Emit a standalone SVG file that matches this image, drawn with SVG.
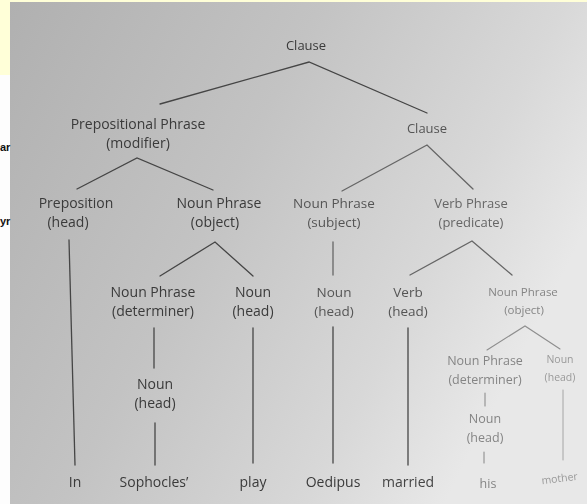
<svg xmlns="http://www.w3.org/2000/svg" width="587" height="504" viewBox="0 0 587 504">
<defs>
<linearGradient id="paper" x1="0" y1="0" x2="1" y2="0.45">
<stop offset="0" stop-color="#b0b0b0"/>
<stop offset="0.45" stop-color="#c3c3c3"/>
<stop offset="0.8" stop-color="#d8d8d8"/>
<stop offset="1" stop-color="#e8e8e8"/>
</linearGradient>
<filter id="soft" x="-5%" y="-5%" width="110%" height="110%"><feGaussianBlur stdDeviation="0.45"/></filter>
<style>
text{font-family:"Open Sans","Noto Sans","DejaVu Sans",sans-serif;text-anchor:middle;}
.d{fill:#3a3a3a;font-size:14px;}
.m{fill:#555;font-size:13.5px;}
.l{fill:#858585;font-size:12.5px;}
.f{fill:#9a9a9a;font-size:10.5px;}
.edge{fill:none;stroke:#454545;stroke-width:1.3;stroke-linecap:round;}
.em{stroke:#666;}
.el{stroke:#8e8e8e;stroke-width:1.1;}
.ef{stroke:#a5a5a5;stroke-width:1;}
</style>
</defs>
<rect x="0" y="0" width="587" height="504" fill="#fdfdfd"/>
<rect x="0" y="0" width="10" height="75" fill="#ffffd8"/>
<rect x="10" y="2" width="577" height="502" fill="url(#paper)"/>
<rect x="0" y="0" width="587" height="2" fill="#ffffd8"/>
<text x="0" y="151" style="font-family:'Liberation Sans',sans-serif;font-weight:bold;font-size:11px;fill:#111;text-anchor:start">ar</text>
<text x="0" y="225" style="font-family:'Liberation Sans',sans-serif;font-weight:bold;font-size:11px;fill:#111;text-anchor:start">yr</text>
<g filter="url(#soft)">
<g id="connectors">
<path class="edge" d="M160 104 L309 62 L427 113"/>
<path class="edge" d="M77 189 L137 158 L213 190"/>
<path class="edge em" d="M342 191 L427 145 L473 189"/>
<path class="edge" d="M160 276 L215 242 L253 276"/>
<path class="edge em" d="M410 275 L472 241 L512 275"/>
<path class="edge el" d="M487 350 L525 326 L560 349"/>
<path class="edge" d="M69 240 L75 465"/>
<path class="edge em" d="M333 242 L333 275"/>
<path class="edge" d="M154 328 L154 368"/>
<path class="edge" d="M155 423 L155 465"/>
<path class="edge" d="M253 328 L253 463"/>
<path class="edge" d="M333 327 L333 463"/>
<path class="edge" d="M408 328 L408 465"/>
<path class="edge el" d="M485 393 L485 406"/>
<path class="edge el" d="M484 452 L484 463"/>
<path class="edge ef" d="M563 390 L563 460"/>
</g>
<g id="clause-top"><text class="d" x="306" y="50" style="font-size:13px">Clause</text></g>
<g id="pp"><text class="d" x="138" y="129">Prepositional Phrase</text><text class="d" x="138" y="148">(modifier)</text></g>
<g id="clause-mid"><text class="m" x="427" y="133" style="font-size:13px">Clause</text></g>
<g id="preposition"><text class="d" x="76" y="208">Preposition</text><text class="d" x="68" y="227">(head)</text></g>
<g id="np-object"><text class="d" x="219" y="208">Noun Phrase</text><text class="d" x="215" y="227">(object)</text></g>
<g id="np-subject"><text class="m" x="334" y="208">Noun Phrase</text><text class="m" x="334" y="227">(subject)</text></g>
<g id="vp"><text class="m" x="471" y="208" style="fill:#666;font-size:13px">Verb Phrase</text><text class="m" x="471" y="227" style="fill:#666;font-size:13px">(predicate)</text></g>
<g id="np-det-1"><text class="d" x="153" y="297">Noun Phrase</text><text class="d" x="153" y="316">(determiner)</text></g>
<g id="noun-play"><text class="d" x="253" y="297">Noun</text><text class="d" x="253" y="316">(head)</text></g>
<g id="noun-subj"><text class="m" x="334" y="297">Noun</text><text class="m" x="334" y="316">(head)</text></g>
<g id="verb"><text class="m" x="408" y="297">Verb</text><text class="m" x="408" y="316">(head)</text></g>
<g id="np-object-2"><text class="l" x="523" y="296" style="font-size:11.5px">Noun Phrase</text><text class="l" x="524" y="314" style="font-size:11.5px">(object)</text></g>
<g id="noun-soph"><text class="d" x="155" y="389">Noun</text><text class="d" x="155" y="408">(head)</text></g>
<g id="np-det-2"><text class="l" x="485" y="365">Noun Phrase</text><text class="l" x="485" y="384">(determiner)</text></g>
<g id="noun-mother"><text class="f" x="560" y="363">Noun</text><text class="f" x="560" y="381">(head)</text></g>
<g id="noun-his"><text class="l" x="485" y="423">Noun</text><text class="l" x="485" y="442">(head)</text></g>
<g id="w-in"><text class="d" x="75" y="487">In</text></g>
<g id="w-sophocles"><text class="d" x="154" y="487">Sophocles’</text></g>
<g id="w-play"><text class="d" x="253" y="487">play</text></g>
<g id="w-oedipus"><text class="d" x="333" y="487">Oedipus</text></g>
<g id="w-married"><text class="d" x="408" y="487" style="fill:#444">married</text></g>
<g id="w-his"><text class="l" x="488" y="488">his</text></g>
<g id="w-mother"><text class="f" x="560" y="482" transform="rotate(-7 560 482)">mother</text></g>
</g>
</svg>
